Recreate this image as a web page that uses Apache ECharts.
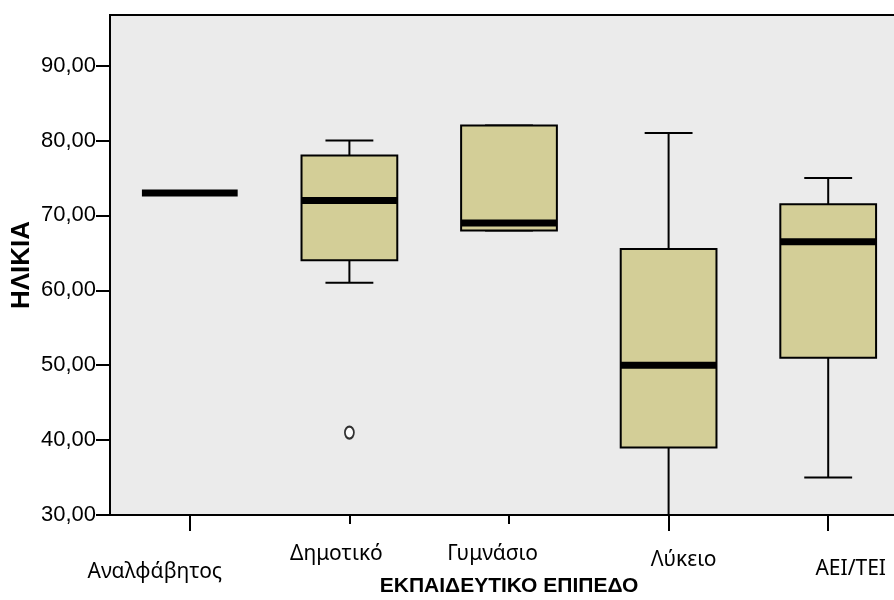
<!DOCTYPE html>
<html>
<head>
<meta charset="utf-8">
<script src="https://cdn.jsdelivr.net/npm/echarts@6/dist/echarts.min.js"></script>
<style>html,body{margin:0;padding:0;background:#fff;}#c{width:894px;height:600px;}</style>
</head>
<body>
<div id="c"></div>
<script>
var categories = ['Αναλφάβητος', 'Δημοτικό', 'Γυμνάσιο', 'Λύκειο', 'ΑΕΙ/ΤΕΙ'];
var whiskerLow  = [73, 61, 68, 30, 35];
var q1          = [73, 64, 68, 39, 51];
var median      = [73, 72, 69, 50, 66.5];
var q3          = [73, 78, 82, 65.5, 71.5];
var whiskerHigh = [73, 80, 82, 81, 75];
var outliers = [[1, 41]];
var yTicks = [30, 40, 50, 60, 70, 80, 90];

var boxData = categories.map(function (c, i) {
  return [i, whiskerLow[i], q1[i], median[i], q3[i], whiskerHigh[i]];
});

// label placement quirks of the original (top, right, left padding)
var labelPad = [[37, 70, 0], [19, 26, 0], [19, 33, 0], [25, 0, 30], [34, 0, 45]];
var longTick = [true, false, false, true, true];
var rich = {};
labelPad.forEach(function (p, i) {
  rich['l' + i] = { padding: [p[0], p[1], 0, p[2]], fontFamily: 'Noto Sans', fontSize: 21, color: '#000' };
});

var chart = echarts.init(document.getElementById('c'), null, { renderer: 'canvas' });

function renderBox(params, api) {
  var idx = api.value(0);
  var lo = api.coord([idx, api.value(1)]);
  var b1 = api.coord([idx, api.value(2)]);
  var md = api.coord([idx, api.value(3)]);
  var b3 = api.coord([idx, api.value(4)]);
  var hi = api.coord([idx, api.value(5)]);
  var band = api.size([1, 0])[0];
  var bw = band * 0.6;
  var cw = bw * 0.5;
  var x = lo[0];
  var lineStyle = { stroke: '#000', lineWidth: 2 };
  var children = [];
  children.push({ type: 'line', shape: { x1: x, y1: lo[1], x2: x, y2: b1[1] }, style: lineStyle });
  children.push({ type: 'line', shape: { x1: x, y1: b3[1], x2: x, y2: hi[1] }, style: lineStyle });
  children.push({ type: 'line', shape: { x1: x - cw / 2, y1: lo[1], x2: x + cw / 2, y2: lo[1] }, style: lineStyle });
  children.push({ type: 'line', shape: { x1: x - cw / 2, y1: hi[1], x2: x + cw / 2, y2: hi[1] }, style: lineStyle });
  if (b1[1] - b3[1] > 0.5) {
    children.push({ type: 'rect', shape: { x: x - bw / 2, y: b3[1], width: bw, height: b1[1] - b3[1] },
      style: { fill: '#D3CE97', stroke: '#000', lineWidth: 2 } });
  }
  children.push({ type: 'line', shape: { x1: x - bw / 2, y1: md[1], x2: x + bw / 2, y2: md[1] },
    style: { stroke: '#000', lineWidth: 7 } });
  return { type: 'group', children: children };
}

chart.setOption({
  animation: false,
  backgroundColor: '#fff',
  grid: {
    left: 110, top: 15, width: 798, height: 500,
    containLabel: false, outerBoundsMode: 'none',
    show: true, backgroundColor: '#EBEBEB', borderColor: '#000', borderWidth: 2
  },
  xAxis: [{
    type: 'category',
    data: categories,
    position: 'bottom',
    name: 'ΕΚΠΑΙΔΕΥΤΙΚΟ ΕΠΙΠΕΔΟ',
    nameLocation: 'middle',
    nameGap: 61,
    nameMoveOverlap: false,
    nameTextStyle: { fontFamily: 'Liberation Sans', fontWeight: 'bold', fontSize: 21, color: '#000' },
    axisLine: { lineStyle: { color: '#000', width: 2 } },
    axisTick: {
      show: true, alignWithLabel: true, length: 9,
      lineStyle: { color: '#000', width: 2 }
    },
    axisLabel: {
      margin: 10,
      formatter: function (v, i) { return '{l' + i + '|' + v + '}'; },
      rich: rich
    },
    splitLine: { show: false }
  }, {
    type: 'category',
    data: categories,
    position: 'bottom',
    offset: 0,
    axisLine: { show: false },
    axisTick: {
      show: true, alignWithLabel: true, length: 16,
      interval: function (i) { return longTick[i]; },
      lineStyle: { color: '#000', width: 2 }
    },
    axisLabel: { show: false },
    splitLine: { show: false }
  }],
  yAxis: {
    type: 'value',
    min: 30, max: 96.76, interval: 10,
    name: 'ΗΛΙΚΙΑ',
    nameLocation: 'middle',
    nameGap: 75,
    nameRotate: 90,
    nameMoveOverlap: false,
    nameTextStyle: { fontFamily: 'Liberation Sans', fontWeight: 'bold', fontSize: 26, color: '#000' },
    axisLine: { show: true, lineStyle: { color: '#000', width: 2 } },
    axisTick: { show: true, length: 14, customValues: yTicks, lineStyle: { color: '#000', width: 2 } },
    axisLabel: {
      customValues: yTicks,
      margin: 14,
      fontFamily: 'Liberation Sans', fontSize: 22, color: '#000',
      formatter: function (v) { return v.toFixed(2).replace('.', ','); }
    },
    splitLine: { show: false }
  },
  series: [
    {
      type: 'custom',
      renderItem: renderBox,
      data: boxData,
      encode: { x: 0, y: [1, 2, 3, 4, 5] },
      z: 3
    },
    {
      type: 'scatter',
      data: outliers,
      symbol: 'emptyCircle',
      symbolSize: [9, 12],
      itemStyle: { color: '#000', borderColor: '#000', borderWidth: 2 },
      z: 4
    }
  ]
});
</script>
</body>
</html>
